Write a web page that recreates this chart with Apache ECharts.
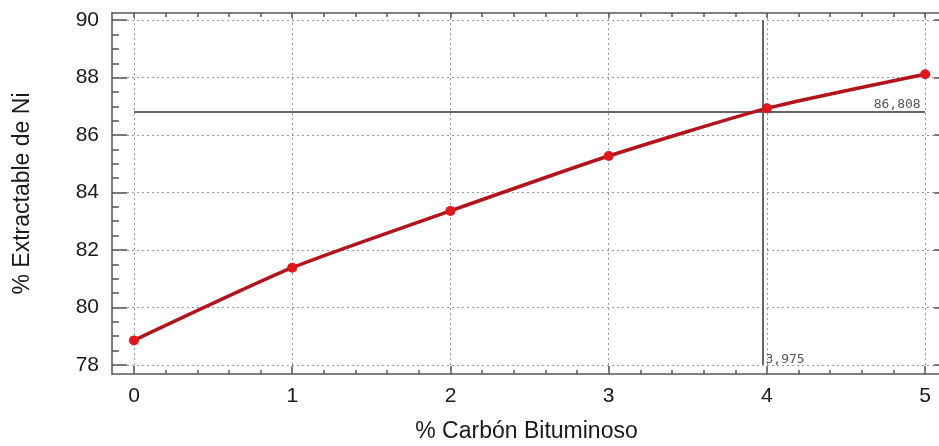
<!DOCTYPE html>
<html>
<head>
<meta charset="utf-8">
<script src="https://cdn.jsdelivr.net/npm/echarts@6/dist/echarts.min.js"></script>
<style>html,body{margin:0;padding:0;background:#fff}#c{width:939px;height:446px}</style>
</head>
<body>
<div id="c"></div>
<script>
var carbon = [0, 1, 2, 3, 4, 5];
var extractable = [78.85, 81.38, 83.36, 85.27, 86.93, 88.12];
var xMajorTicks = [0, 1, 2, 3, 4, 5];
var xMinorTicks = [0.2, 0.4, 0.6, 0.8, 1.2, 1.4, 1.6, 1.8, 2.2, 2.4, 2.6, 2.8, 3.2, 3.4, 3.6, 3.8, 4.2, 4.4, 4.6, 4.8];
var yMajorTicks = [78, 80, 82, 84, 86, 88, 90];
var yMinorTicks = [78.5, 79, 79.5, 80.5, 81, 81.5, 82.5, 83, 83.5, 84.5, 85, 85.5, 86.5, 87, 87.5, 88.5, 89, 89.5];
var crossX = 3.975;
var crossY = 86.808;
var crossXLabel = '3,975';
var crossYLabel = '86,808';

var X_MIN = -0.139, X_MAX = 5.1, Y_MIN = 77.68, Y_MAX = 90.25;
var frame = { show: true, onZero: false, lineStyle: { color: '#555', width: 1.5 } };
var noLine = { show: false, onZero: false };
var grid = { color: '#999', width: 1, type: [2, 3] };
var font = 'Liberation Sans, Arial, sans-serif';

function xAx(pos, line, ticks, len, labels, split) {
  return {
    type: 'value', position: pos, min: X_MIN, max: X_MAX,
    axisLine: line,
    axisTick: { show: true, inside: true, length: len, customValues: ticks, lineStyle: { color: '#555', width: 1.5 } },
    axisLabel: labels ? { show: true, customValues: ticks, color: '#1a1a1a', fontSize: 21, fontFamily: font, margin: 12 } : { show: false },
    splitLine: split ? { show: true, lineStyle: grid } : { show: false },
    minorTick: { show: false }
  };
}
function yAx(pos, line, ticks, len, labels, split) {
  return {
    type: 'value', position: pos, min: Y_MIN, max: Y_MAX,
    axisLine: line,
    axisTick: { show: true, inside: true, length: len, customValues: ticks, lineStyle: { color: '#555', width: 1.5 } },
    axisLabel: labels ? { show: true, customValues: ticks, color: '#1a1a1a', fontSize: 21, fontFamily: font, margin: 13 } : { show: false },
    splitLine: split ? { show: true, lineStyle: grid } : { show: false },
    minorTick: { show: false }
  };
}

var xAxes = [
  xAx('bottom', frame, xMajorTicks, 8, true, true),
  xAx('bottom', noLine, xMinorTicks, 4, false, false),
  xAx('top', frame, xMajorTicks, 5, false, false),
  xAx('top', noLine, xMinorTicks, 4, false, false)
];
xAxes[0].name = '% Carbón Bituminoso';
xAxes[0].nameLocation = 'middle';
xAxes[0].nameGap = 46;
xAxes[0].nameTextStyle = { color: '#1a1a1a', fontSize: 23, fontFamily: font };

var yAxes = [
  yAx('left', frame, yMajorTicks, 15, true, true),
  yAx('left', noLine, yMinorTicks, 7, false, false),
  yAx('right', frame, yMajorTicks, 7, false, false)
];
yAxes[0].name = '% Extractable de Ni';
yAxes[0].nameLocation = 'middle';
yAxes[0].nameGap = 78;
yAxes[0].nameTextStyle = { color: '#1a1a1a', fontSize: 23, fontFamily: font };

var labelStyle = { color: '#555', fontSize: 13, fontFamily: 'DejaVu Sans Mono, monospace' };

var chart = echarts.init(document.getElementById('c'), null, { renderer: 'canvas' });
chart.setOption({
  animation: false,
  backgroundColor: '#fff',
  grid: { left: 112, top: 13, right: -2, bottom: 72, containLabel: false, outerBoundsMode: 'none' },
  xAxis: xAxes,
  yAxis: yAxes,
  series: [{
    type: 'line',
    xAxisIndex: 0, yAxisIndex: 0,
    data: carbon.map(function (c, i) { return [c, extractable[i]]; }),
    smooth: 0.2,
    symbol: 'circle',
    symbolSize: 10,
    lineStyle: { color: '#b3131b', width: 3.5 },
    itemStyle: { color: '#e3161c' },
    z: 5,
    markLine: {
      silent: true,
      symbol: 'none',
      label: { show: false },
      lineStyle: { color: '#666', width: 2, type: 'solid' },
      data: [
        [{ coord: [xMajorTicks[0], crossY] }, { coord: [xMajorTicks[5], crossY] }],
        [{ coord: [crossX, yMajorTicks[0]] }, { coord: [crossX, yMajorTicks[6]] }]
      ],
      z: 3
    },
    markPoint: {
      silent: true,
      symbol: 'circle',
      symbolSize: 1,
      itemStyle: { color: 'rgba(0,0,0,0)' },
      data: [
        { coord: [xMajorTicks[5], crossY], label: Object.assign({ show: true, formatter: crossYLabel, position: [-4, -13], align: 'right', verticalAlign: 'top' }, labelStyle) },
        { coord: [crossX, yMajorTicks[0]], label: Object.assign({ show: true, formatter: crossXLabel, position: [3, -11], align: 'left', verticalAlign: 'top' }, labelStyle) }
      ]
    }
  }]
});
</script>
</body>
</html>
